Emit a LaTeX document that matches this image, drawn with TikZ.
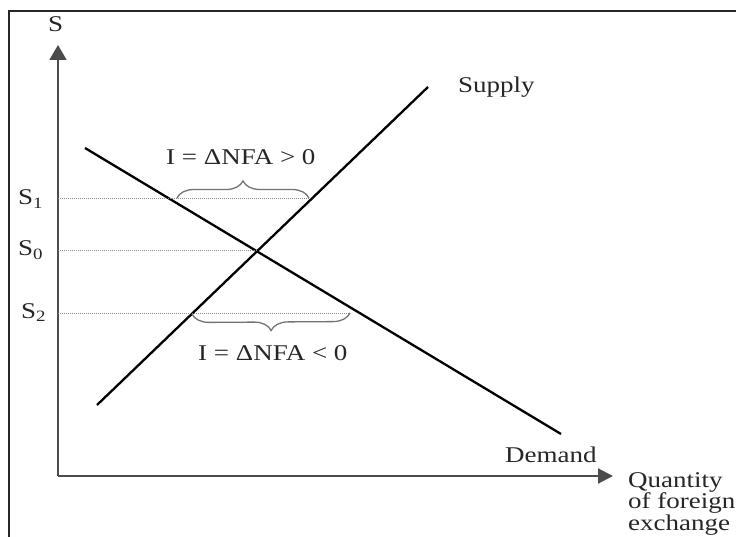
\documentclass[tikz,border=0pt]{standalone}
\usepackage{fontspec}
\setmainfont{Liberation Serif}[FakeStretch=1.2]
\usetikzlibrary{arrows.meta,decorations.pathreplacing}
\begin{document}
\begin{tikzpicture}[x=1pt,y=-1pt,
  lbl/.style={inner sep=0pt,text=black!85,font=\fontsize{22.5}{20}\selectfont},
  axis/.style={line width=2pt,draw=black!70},
  curve/.style={line width=2.3pt,draw=black},
  guide/.style={line width=1pt,draw=black!45,dash pattern=on 1pt off 1pt},
  bracestyle/.style={line width=1.3pt,draw=black!55,decorate,decoration={brace,amplitude=17pt}}]
\useasboundingbox (0,0) rectangle (736,537);
% frame
\draw[line width=2pt,black!85] (8.5,537) -- (8.5,11) -- (736,11);
% axes
\coordinate (O) at (58,476);
\coordinate (ytip) at (58,45);
\coordinate (xtip) at (613,476);
\draw[axis,-{Triangle[length=15pt,width=17pt]}] (O) -- (ytip);
\draw[axis,-{Triangle[length=15pt,width=15pt]}] (O) -- (xtip);
% curves
\coordinate (sA) at (97,405);
\coordinate (sB) at (428,87);
\coordinate (dA) at (85,148);
\coordinate (dB) at (561,434);
\coordinate (E) at (257,251);
\draw[curve] (sA) -- (sB);
\draw[curve] (dA) -- (dB);
% guide lines
\coordinate (y1) at (58,199);
\coordinate (y0) at (58,251);
\coordinate (y2) at (58,313);
\coordinate (p1) at (310,199);
\coordinate (b1) at (177,198);
\coordinate (p2) at (350,313);
\coordinate (b2) at (192,314);
\draw[guide] (y1) -- (p1);
\draw[guide] (y0) -- (E);
\draw[guide] (y2) -- (p2);
% braces
\draw[bracestyle] (b1) -- (309,198);
\draw[bracestyle] (p2) -- (b2);
% labels
\node[lbl,anchor=base west] (lS) at (48,32) {S};
\node[lbl,anchor=base west] (lS1) at (18,205) {S\textsubscript{1}};
\node[lbl,anchor=base west] (lS0) at (18,256) {S\textsubscript{0}};
\node[lbl,anchor=base west] (lS2) at (21,318) {S\textsubscript{2}};
\node[lbl,anchor=base west] (lpos) at (166,165) {I = ΔNFA > 0};
\node[lbl,anchor=base west] (lneg) at (198,360) {I = ΔNFA < 0};
\node[lbl,anchor=base west] (lsup) at (458,93) {Supply};
\node[lbl,anchor=base west] (ldem) at (505,462) {Demand};
\node[lbl,anchor=north west,align=left] (lq) at (628,472) {Quantity\\of foreign\\exchange};
\end{tikzpicture}
\end{document}
